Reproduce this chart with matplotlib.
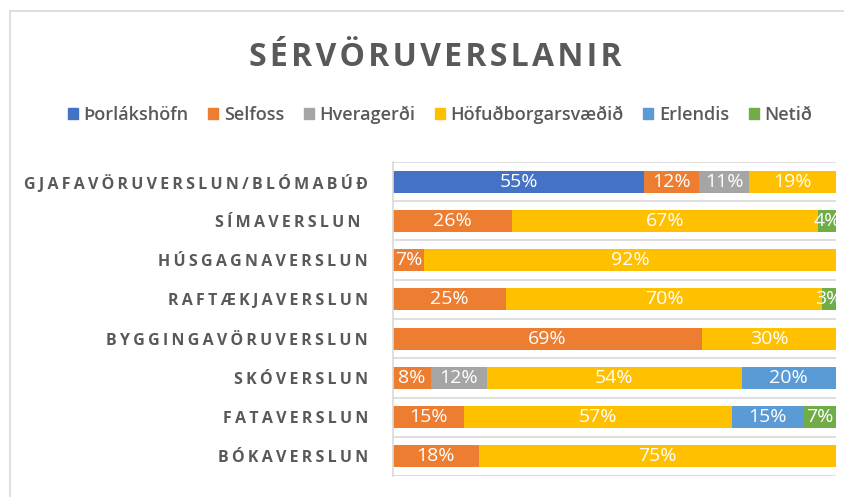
import numpy as np
import matplotlib.pyplot as plt
from matplotlib.patches import Rectangle, Patch

# --- gögn ---
flokkar = ['GJAFAVÖRUVERSLUN/BLÓMABÚÐ', 'SÍMAVERSLUN ', 'HÚSGAGNAVERSLUN',
           'RAFTÆKJAVERSLUN', 'BYGGINGAVÖRUVERSLUN', 'SKÓVERSLUN',
           'FATAVERSLUN', 'BÓKAVERSLUN']
stadir = ['Þorlákshöfn', 'Selfoss', 'Hveragerði', 'Höfuðborgarsvæðið', 'Erlendis', 'Netið']
thorlakshofn = [55, 0, 0, 0, 0, 0, 0, 0]
selfoss = [12, 26, 7, 25, 69, 8, 15, 18]
hveragerdi = [11, 0, 0, 0, 0, 12, 0, 0]
hofudborg = [19, 67, 92, 70, 30, 54, 57, 75]
erlendis = [0, 0, 0, 0, 0, 20, 15, 0]
netid = [0, 4, 0, 3, 0, 0, 7, 0]

litir = ['#4472C4', '#ED7D31', '#A5A5A5', '#FFC000', '#5B9BD5', '#70AD47']
grar = '#595959'
lina = '#D9D9D9'
FONT = ['Open Sans', 'DejaVu Sans']

gildi = np.array([thorlakshofn, selfoss, hveragerdi, hofudborg, erlendis, netid], dtype=float)
summa = gildi.sum(axis=0)
hlutfall = gildi / summa * 100  # 100% staflað

W, H = 844, 497
fig = plt.figure(figsize=(W / 100, H / 100), dpi=100)
plt.rcParams['font.family'] = FONT

# rammi utan um myndritið (nær út fyrir myndina hægra megin)
fig.patches.append(Rectangle((9.5 / W, -0.1), 2, (H - 11) / H + 0.1,
                             transform=fig.transFigure, fill=False,
                             edgecolor=lina, linewidth=1.2))

ax = fig.add_axes([393 / W, (H - 476) / H, (836 - 393) / W, (476 - 162) / H])
y = np.arange(len(flokkar))
vinstri = np.zeros(len(flokkar))
for i, nafn in enumerate(stadir):
    ax.barh(y, hlutfall[i], left=vinstri, height=0.56, color=litir[i], label=nafn)
    for j in range(len(flokkar)):
        if gildi[i, j] > 0:
            ax.text(vinstri[j] + hlutfall[i, j] / 2, y[j], f'{int(gildi[i, j])}%',
                    ha='center', va='center', color='white', fontsize=14, clip_on=True)
    vinstri += hlutfall[i]

ax.set_xlim(0, 100)
ax.set_ylim(len(flokkar) - 0.5, -0.5)
for k in range(len(flokkar) + 1):
    ax.axhline(k - 0.5, color=lina, linewidth=1.2, zorder=0)
ax.set_xticks([])
ax.set_yticks(y)
ax.set_yticklabels(['\u2009'.join(f) for f in flokkar], fontsize=11.5,
                   fontweight='bold', color=grar)
ax.tick_params(axis='y', length=0, pad=18)
for s in ['top', 'right', 'bottom']:
    ax.spines[s].set_visible(False)
ax.spines['left'].set_color(lina)
ax.spines['left'].set_linewidth(1.2)

fig.text(435 / W, 1 - 57 / H, '\u200a'.join('SÉRVÖRUVERSLANIR'), ha='center', va='center',
         fontsize=23, fontweight='bold', color=grar)

handles = [Patch(color=c) for c in litir]
fig.legend(handles, stadir, loc='center', bbox_to_anchor=(440 / W, 1 - 115 / H),
           ncol=6, frameon=False, handlelength=0.55, handleheight=0.55,
           handletextpad=0.3, columnspacing=1.1,
           prop={'size': 13, 'weight': 'semibold', 'family': FONT},
           labelcolor=grar)

fig.savefig('out.png', dpi=100)
